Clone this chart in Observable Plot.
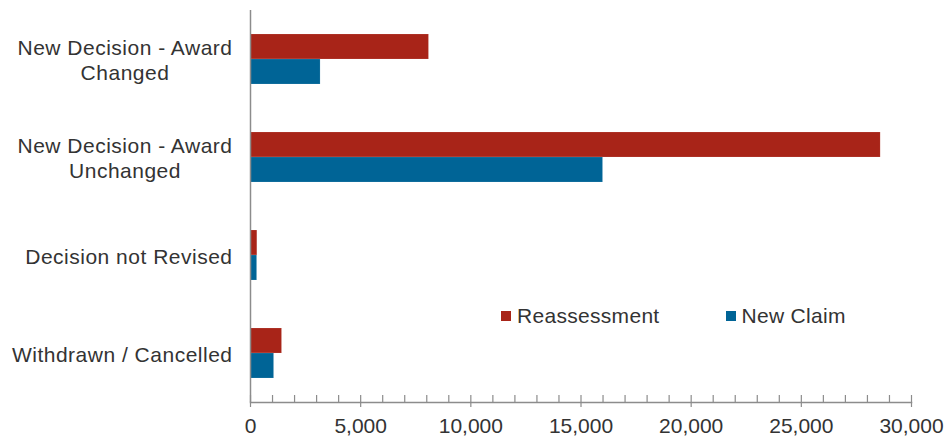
<!DOCTYPE html>
<html>
<head>
<meta charset="utf-8">
<script src="https://cdn.jsdelivr.net/npm/d3@7"></script>
<script src="https://cdn.jsdelivr.net/npm/@observablehq/plot@0.6"></script>
<style>
  html, body { margin: 0; padding: 0; background: #fff; }
  #chart { position: relative; width: 949px; height: 436px; overflow: hidden; }
  #chart svg { display: block; }
  .lg-swatches {
    position: absolute !important;
    left: 501px; top: 300px;
    height: 32px; min-height: 32px !important;
    margin: 0 !important;
    font-family: "Liberation Sans", Arial, sans-serif !important;
    font-size: 21px !important;
    letter-spacing: 0.3px;
    color: #333 !important;
    flex-wrap: nowrap !important;
    display: flex !important;
    align-items: center !important;
  }
  .lg-swatch { margin-right: 66px !important; display: inline-flex !important; align-items: center !important; }
  .lg-swatch > svg { margin-right: 6px !important; }
  g[aria-label="fy-axis tick label"] text { letter-spacing: 0.5px; }
</style>
</head>
<body>
<div id="chart"></div>
<script>
// Review outcomes by decision type
const categories = [
  "New Decision - Award\nChanged",
  "New Decision - Award\nUnchanged",
  "Decision not Revised",
  "Withdrawn / Cancelled"
];
const seriesNames = ["Reassessment", "New Claim"];
const reassessment = [8100, 28600, 310, 1430];
const newClaim = [3180, 16000, 300, 1070];
const seriesColors = ["#a82418", "#006496"];
const majorTicks = [0, 5000, 10000, 15000, 20000, 25000, 30000];
const minorTicks = d3.range(0, 30001, 1000);

const rows = categories.flatMap((category, i) => [
  {category, series: seriesNames[0], value: reassessment[i]},
  {category, series: seriesNames[1], value: newClaim[i]}
]);

const axisGrey = "#8c8c8c";
const textColor = "#333";

const plot = Plot.plot({
  width: 949,
  height: 436,
  marginLeft: 250,
  marginRight: 38,
  marginTop: 10,
  marginBottom: 34,
  style: {
    fontFamily: "'Liberation Sans', Arial, sans-serif",
    fontSize: "21px",
    color: textColor,
    background: "#fff",
    overflow: "visible"
  },
  x: {domain: [0, 30000], label: null},
  fy: {domain: categories, padding: 0, label: null},
  y: {domain: seriesNames, paddingInner: 0, paddingOuter: 0.905, axis: null},
  color: {domain: seriesNames, range: seriesColors},
  marks: [
    Plot.barX(rows, {fy: "category", y: "series", x: "value", fill: "series", stroke: "#fff", strokeOpacity: 0.25, strokeWidth: 0.5}),
    Plot.ruleX([0], {stroke: axisGrey, strokeWidth: 1.5}),
    Plot.frame({anchor: "bottom", stroke: axisGrey, strokeWidth: 1.5, facetAnchor: "bottom"}),
    Plot.axisX({ticks: minorTicks, tickSize: -7, tickFormat: () => "", stroke: axisGrey, strokeWidth: 1.2}),
    Plot.axisX({ticks: majorTicks, tickSize: 5, tickPadding: 11, tickFormat: d3.format(","), stroke: axisGrey, strokeWidth: 1.2, fill: textColor, fontSize: 21}),
    Plot.axisFy({anchor: "left", tickSize: 0, tickPadding: 18, lineHeight: 1.2, fontSize: 21, fill: textColor, label: null})
  ]
});

const chart = document.getElementById("chart");
chart.appendChild(plot);

// Two-line category labels are centred line by line, block kept right-aligned
plot.querySelectorAll('g[aria-label="fy-axis tick label"] text').forEach(t => {
  if (t.querySelectorAll("tspan").length < 2) return;
  const before = t.getBBox();
  t.setAttribute("text-anchor", "middle");
  const after = t.getBBox();
  const shift = (before.x + before.width / 2) - (after.x + after.width / 2);
  t.setAttribute("transform", (t.getAttribute("transform") || "") + ` translate(${shift},0)`);
});

const legend = plot.legend("color", {legend: "swatches", swatchSize: 10, className: "lg"});
chart.appendChild(legend);
</script>
</body>
</html>
